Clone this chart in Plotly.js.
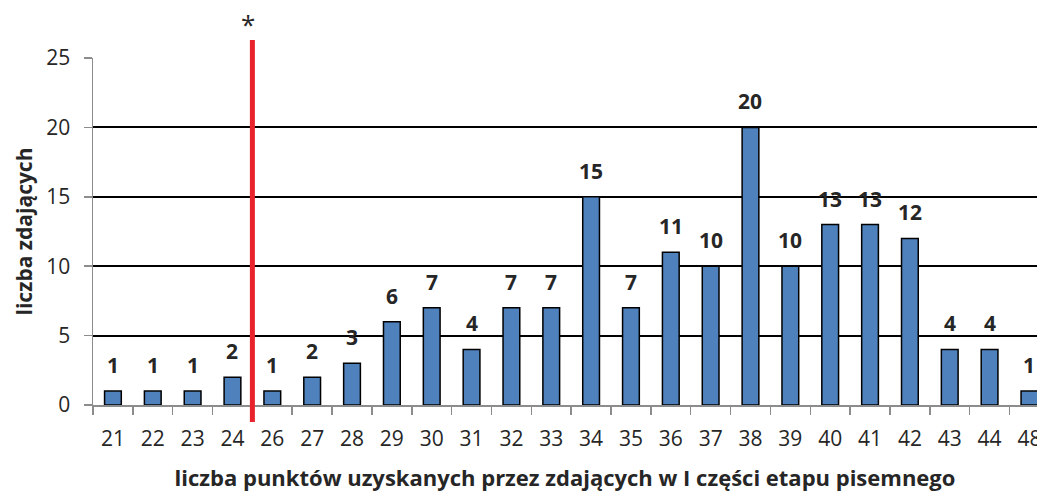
<!DOCTYPE html>
<html>
<head>
<meta charset="utf-8">
<script src="https://cdn.plot.ly/plotly-3.0.1.min.js"></script>
<style>
html,body{margin:0;padding:0;background:#fff;overflow:hidden;}
#chart{width:1037px;height:492px;}
</style>
</head>
<body>
<div id="chart"></div>
<script>
const categories = ["21","22","23","24","26","27","28","29","30","31","32","33","34","35","36","37","38","39","40","41","42","43","44","48"];
const counts = [1,1,1,2,1,2,3,6,7,4,7,7,15,7,11,10,20,10,13,13,12,4,4,1];
const yTicks = [0,5,10,15,20,25];
const thresholdLabel = "*";
const xTitle = "liczba punktów uzyskanych przez zdających w I części etapu pisemnego";
const yTitle = "liczba zdających";

const trace = {
  type: "bar",
  x: categories,
  y: counts,
  width: 0.42,
  marker: {color: "#4F81BD", line: {color: "#000000", width: 1.5}},
  hoverinfo: "x+y"
};

const labelAnnotations = categories.map((c, i) => ({
  x: i, y: counts[i], xref: "x", yref: "y",
  text: String(counts[i]), showarrow: false,
  yanchor: "middle", yshift: 26,
  font: {family: "Open Sans, sans-serif", size: 21, color: "#262626", weight: "bold"}
}));

// threshold sits between "24" and "26"
const thresholdX = 3.5;

const layout = {
  width: 1037, height: 492,
  margin: {l: 93, r: 0, t: 58, b: 87},
  paper_bgcolor: "#fff", plot_bgcolor: "#fff",
  showlegend: false,
  bargap: 0,
  xaxis: {
    type: "category",
    range: [-0.5, 23.19],
    tickson: "boundaries",
    ticks: "outside", ticklen: 8, tickwidth: 1.5, tickcolor: "#8c8c8c",
    showline: true, linecolor: "#8c8c8c", linewidth: 1.5,
    showgrid: false, zeroline: false,
    tickfont: {family: "Open Sans, sans-serif", size: 21, color: "#262626"},
    ticklabelstandoff: 14,
    title: {text: xTitle, standoff: 20,
      font: {family: "Open Sans, sans-serif", size: 22, color: "#262626", weight: "bold"}}
  },
  yaxis: {
    range: [0, 25],
    tickvals: yTicks,
    ticks: "outside", ticklen: 8, tickwidth: 1.5, tickcolor: "#8c8c8c",
    showline: true, linecolor: "#8c8c8c", linewidth: 1.5,
    showgrid: true, gridcolor: "#000000", gridwidth: 2,
    zeroline: false,
    tickfont: {family: "Open Sans, sans-serif", size: 21, color: "#262626"},
    ticklabelstandoff: 9,
    title: {text: yTitle, standoff: 8,
      font: {family: "Open Sans, sans-serif", size: 21, color: "#262626", weight: "bold"}}
  },
  shapes: [{
    type: "line", xref: "x", yref: "paper",
    x0: thresholdX, x1: thresholdX, y0: -0.049, y1: 1.052,
    line: {color: "#E8232B", width: 5}
  }],
  annotations: labelAnnotations.concat([{
    x: thresholdX, y: 1.052, xref: "x", yref: "paper",
    text: thresholdLabel, showarrow: false, yanchor: "bottom", xshift: -4, yshift: -4,
    font: {family: "Open Sans, sans-serif", size: 26, color: "#262626"}
  }])
};

Plotly.newPlot("chart", [trace], layout, {displayModeBar: false, staticPlot: true});
</script>
</body>
</html>
